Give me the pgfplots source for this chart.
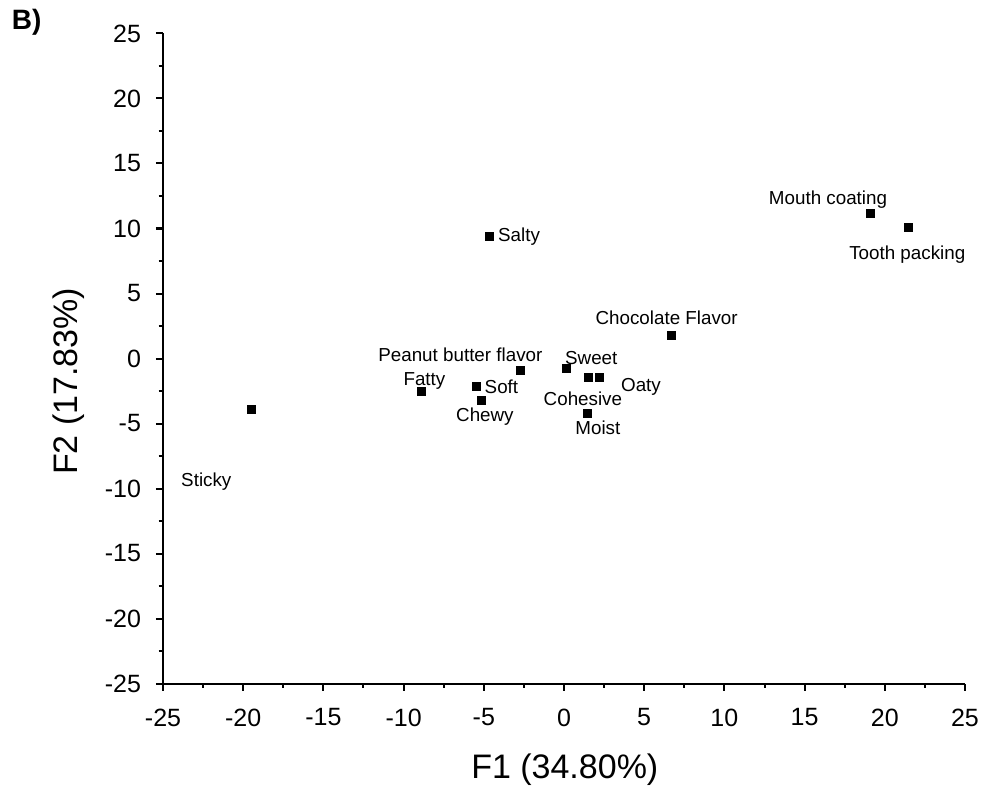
\documentclass[border=0pt]{standalone}
\usepackage{pgfplots}
\pgfplotsset{compat=1.18}
\usepackage{fontspec}
\setmainfont{Liberation Sans}
\begin{document}
\begin{tikzpicture}
\useasboundingbox (-81.5pt,-54.25pt) rectangle (412.5pt,341.75pt);
\begin{axis}[
    scale only axis,
    width=401pt, height=325pt,
    xmin=-25, xmax=25, ymin=-25, ymax=25,
    axis lines*=left,
    axis line style={line width=1pt},
    xtick={-25,-20,...,25}, ytick={-25,-20,...,25},
    minor tick num=1,
    tick align=outside,
    major tick length=3.5pt, minor tick length=2.2pt,
    every tick/.style={line width=1pt, black},
    tick label style={font=\fontsize{12.5}{15}\selectfont},
    xticklabel style={yshift=-5.5pt},
    yticklabel style={xshift=-4pt},
    /pgf/number format/assume math mode=true,
    xlabel={F1 (34.80\%)}, ylabel={F2 (17.83\%)},
    label style={font=\fontsize{17}{20}\selectfont},
    xlabel style={at={(axis description cs:0.501,-0.133)}, anchor=center},
    ylabel style={at={(axis description cs:-0.118,0.465)}, anchor=center},
    clip=false,
]
\addplot[only marks, mark=square*, mark size=2pt, black] coordinates {
    (-19.5,-3.88)
    (-4.66,9.4)
    (19.1,11.15)
    (21.5,10.05)
    (6.69,1.8)
    (-2.71,-0.88)
    (0.15,-0.73)
    (-8.86,-2.5)
    (-5.48,-2.17)
    (-5.17,-3.19)
    (1.5,-1.45)
    (2.23,-1.45)
    (1.46,-4.21)
};
\begin{scope}[every node/.style={font=\fontsize{9.4}{11}\selectfont, inner sep=0pt}]
\node at (axis cs:-22.3,-9.5) {Sticky};
\node at (axis cs:-2.8,9.4) {Salty};
\node at (axis cs:16.46,12.2) {Mouth coating};
\node at (axis cs:21.4,8.0) {Tooth packing};
\node at (axis cs:6.4,3.1) {Chocolate Flavor};
\node at (axis cs:-6.46,0.27) {Peanut butter flavor};
\node at (axis cs:1.7,0) {Sweet};
\node at (axis cs:-8.7,-1.73) {Fatty};
\node at (axis cs:-3.9,-2.2) {Soft};
\node at (axis cs:-4.93,-4.5) {Chewy};
\node at (axis cs:1.18,-3.13) {Cohesive};
\node at (axis cs:4.8,-2.2) {Oaty};
\node at (axis cs:2.11,-5.36) {Moist};
\end{scope}
\node[font=\bfseries\fontsize{14}{16}\selectfont] at (axis description cs:-0.170,1.018) {B)};
\end{axis}
\end{tikzpicture}
\end{document}
